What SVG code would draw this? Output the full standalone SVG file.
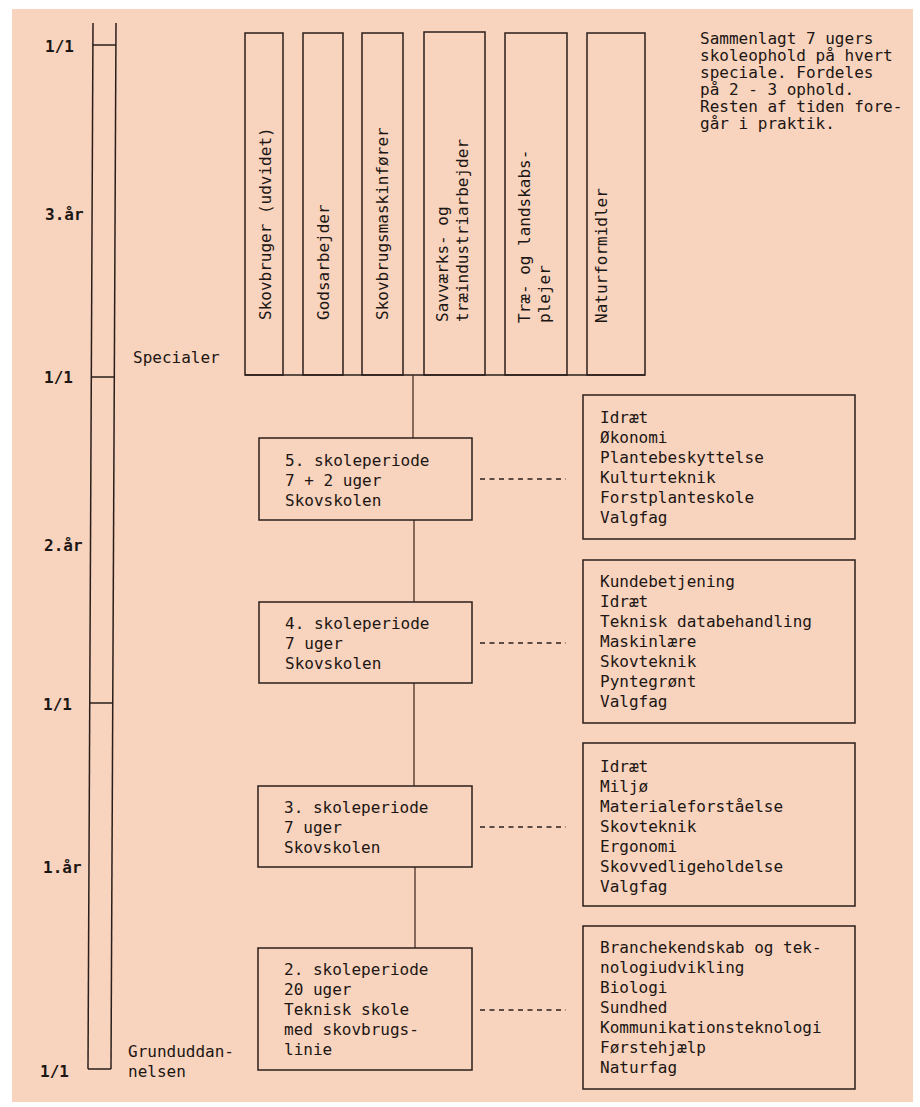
<svg xmlns="http://www.w3.org/2000/svg" width="920" height="1107" viewBox="0 0 920 1107">
<style>
.t{font-family:"DejaVu Sans Mono","Liberation Mono",monospace;font-size:16px;fill:#1c1614}
.y{font-weight:bold}
.b{fill:none;stroke:#2a1f1c;stroke-width:1.5}
.c{fill:none;stroke:#4a3028;stroke-width:1.3}
.d{fill:none;stroke:#2a1f1c;stroke-width:1.5;stroke-dasharray:5 4.5}
</style>
<rect x="0" y="0" width="920" height="1107" fill="#ffffff"/>
<rect x="12" y="9" width="901" height="1093" fill="#f8d3bd"/>

<g id="timeline">
<line class="b" x1="93" y1="23" x2="88" y2="1069"/>
<line class="b" x1="116" y1="23" x2="111" y2="1069"/>
<line class="b" x1="92.8" y1="45" x2="115.8" y2="45"/>
<line class="b" x1="91.3" y1="377" x2="114.3" y2="377"/>
<line class="b" x1="89.8" y1="703" x2="112.8" y2="703"/>
<line class="b" x1="88" y1="1069" x2="111" y2="1069"/>
<text class="t y" x="45" y="52">1/1</text>
<text class="t y" x="45" y="220">3.år</text>
<text class="t y" x="44" y="383">1/1</text>
<text class="t y" x="44" y="551">2.år</text>
<text class="t y" x="43" y="710">1/1</text>
<text class="t y" x="43" y="873">1.år</text>
<text class="t y" x="40" y="1077">1/1</text>
<text class="t" x="133" y="363">Specialer</text>
<text class="t" x="128" y="1057">Grunduddan-</text>
<text class="t" x="128" y="1077">nelsen</text>
</g>

<g id="specialer">
<rect class="b" x="245" y="33" width="38" height="342"/>
<rect class="b" x="303" y="33" width="40" height="342"/>
<rect class="b" x="362" y="33" width="41" height="342"/>
<rect class="b" x="424" y="32" width="61" height="343"/>
<rect class="b" x="505" y="33" width="62" height="342"/>
<rect class="b" x="587" y="33" width="58" height="342"/>
<line class="b" x1="245" y1="375" x2="645" y2="375"/>
<text class="t" transform="translate(271,320) rotate(-90)">Skovbruger (udvidet)</text>
<text class="t" transform="translate(329,320) rotate(-90)">Godsarbejder</text>
<text class="t" transform="translate(388,320) rotate(-90)">Skovbrugsmaskinfører</text>
<text class="t" transform="translate(448,322) rotate(-90)">Savværks- og</text>
<text class="t" transform="translate(468,322) rotate(-90)">træindustriarbejder</text>
<text class="t" transform="translate(530,323) rotate(-90)">Træ- og landskabs-</text>
<text class="t" transform="translate(550,323) rotate(-90)">plejer</text>
<text class="t" transform="translate(607,323) rotate(-90)">Naturformidler</text>
</g>

<g id="note">
<text class="t" x="700" y="44">Sammenlagt 7 ugers</text>
<text class="t" x="700" y="61">skoleophold på hvert</text>
<text class="t" x="700" y="78">speciale. Fordeles</text>
<text class="t" x="700" y="95">på 2 - 3 ophold.</text>
<text class="t" x="700" y="112">Resten af tiden fore-</text>
<text class="t" x="700" y="129">går i praktik.</text>
</g>

<g id="connectors">
<line class="c" x1="413" y1="375" x2="413" y2="438"/>
<line class="c" x1="414" y1="520" x2="414" y2="602"/>
<line class="c" x1="414" y1="683" x2="414" y2="786"/>
<line class="c" x1="415" y1="867" x2="415" y2="948"/>
<line class="d" x1="480" y1="479" x2="566" y2="479"/>
<line class="d" x1="480" y1="643" x2="566" y2="643"/>
<line class="d" x1="480" y1="827" x2="566" y2="827"/>
<line class="d" x1="480" y1="1010" x2="566" y2="1010"/>
</g>

<g id="p5">
<rect class="b" x="259" y="438" width="213" height="82"/>
<text class="t" x="285" y="466">5. skoleperiode</text>
<text class="t" x="285" y="486">7 + 2 uger</text>
<text class="t" x="285" y="506">Skovskolen</text>
</g>
<g id="p4">
<rect class="b" x="259" y="602" width="213" height="81"/>
<text class="t" x="285" y="629">4. skoleperiode</text>
<text class="t" x="285" y="649">7 uger</text>
<text class="t" x="285" y="669">Skovskolen</text>
</g>
<g id="p3">
<rect class="b" x="258" y="786" width="214" height="81"/>
<text class="t" x="284" y="813">3. skoleperiode</text>
<text class="t" x="284" y="833">7 uger</text>
<text class="t" x="284" y="853">Skovskolen</text>
</g>
<g id="p2">
<rect class="b" x="258" y="948" width="214" height="122"/>
<text class="t" x="284" y="975">2. skoleperiode</text>
<text class="t" x="284" y="995">20 uger</text>
<text class="t" x="284" y="1015">Teknisk skole</text>
<text class="t" x="284" y="1035">med skovbrugs-</text>
<text class="t" x="284" y="1055">linie</text>
</g>

<g id="f5">
<rect class="b" x="583" y="395" width="272" height="144"/>
<text class="t" x="600" y="423">Idræt</text>
<text class="t" x="600" y="443">Økonomi</text>
<text class="t" x="600" y="463">Plantebeskyttelse</text>
<text class="t" x="600" y="483">Kulturteknik</text>
<text class="t" x="600" y="503">Forstplanteskole</text>
<text class="t" x="600" y="523">Valgfag</text>
</g>
<g id="f4">
<rect class="b" x="583" y="560" width="272" height="163"/>
<text class="t" x="600" y="587">Kundebetjening</text>
<text class="t" x="600" y="607">Idræt</text>
<text class="t" x="600" y="627">Teknisk databehandling</text>
<text class="t" x="600" y="647">Maskinlære</text>
<text class="t" x="600" y="667">Skovteknik</text>
<text class="t" x="600" y="687">Pyntegrønt</text>
<text class="t" x="600" y="707">Valgfag</text>
</g>
<g id="f3">
<rect class="b" x="583" y="743" width="272" height="163"/>
<text class="t" x="600" y="772">Idræt</text>
<text class="t" x="600" y="792">Miljø</text>
<text class="t" x="600" y="812">Materialeforståelse</text>
<text class="t" x="600" y="832">Skovteknik</text>
<text class="t" x="600" y="852">Ergonomi</text>
<text class="t" x="600" y="872">Skovvedligeholdelse</text>
<text class="t" x="600" y="892">Valgfag</text>
</g>
<g id="f2">
<rect class="b" x="583" y="926" width="272" height="163"/>
<text class="t" x="600" y="953">Branchekendskab og tek-</text>
<text class="t" x="600" y="973">nologiudvikling</text>
<text class="t" x="600" y="993">Biologi</text>
<text class="t" x="600" y="1013">Sundhed</text>
<text class="t" x="600" y="1033">Kommunikationsteknologi</text>
<text class="t" x="600" y="1053">Førstehjælp</text>
<text class="t" x="600" y="1073">Naturfag</text>
</g>
</svg>
